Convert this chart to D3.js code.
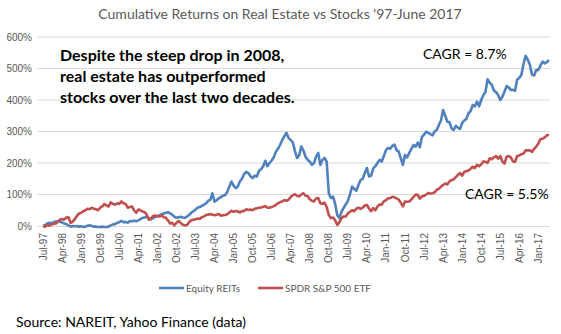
<!DOCTYPE html>
<html>
<head>
<meta charset="utf-8">
<script src="https://cdn.jsdelivr.net/npm/d3@7"></script>
<style>
  body { margin: 0; background: #fff; }
  svg { display: block; font-family: Lato, "Open Sans", sans-serif; }
  .grid line { stroke: #d9d9d9; stroke-width: 1; }
  .axis text { fill: #595959; font-size: 10px; }
  .series { fill: none; stroke-width: 2.6; stroke-linejoin: round; }
</style>
</head>
<body>
<script>
// monthly cumulative total return (%), Jul-97 .. Jun-17
var reitReturns = [
  0, 3, 8, 10, 8, 12,                                   // 1997
  14, 13, 15, 11, 8, 6, 2, -2, 0, -1, 0, -2,            // 1998
  -1, -3, -2, 1, 2, 0, -2, -2, -3, -3, -2, -3,          // 1999
  -3, -2, 2, 5, 6, 10, 12, 16, 12, 13, 10, 16,          // 2000
  15, 17, 15, 18, 22, 26, 27, 30, 24, 21, 25, 29,       // 2001
  31, 33, 38, 40, 42, 44, 40, 36, 30, 26, 28, 29,       // 2002
  27, 26, 30, 35, 42, 47, 52, 58, 60, 64, 68, 72,       // 2003
  80, 83, 104, 77, 82, 88, 92, 96, 98, 108, 125, 141,   // 2004
  128, 120, 125, 142, 150, 165, 172, 168, 158, 152, 160, 157, // 2005
  175, 180, 190, 207, 190, 200, 208, 218, 236, 245, 258, 273, // 2006
  285, 296, 279, 273, 265, 238, 216, 225, 252, 240, 220, 210, // 2007
  205, 194, 200, 220, 232, 194, 210, 216, 204, 104, 89, 93,   // 2008
  70, 35, 25, 45, 58, 68, 80, 100, 125, 118, 112, 130,        // 2009
  146, 150, 168, 184, 157, 160, 183, 190, 200, 210, 205, 222, // 2010
  241, 248, 245, 254, 258, 241, 236, 215, 194, 225, 218, 232, // 2011
  245, 257, 252, 265, 250, 283, 290, 300, 295, 292, 288, 300, // 2012
  305, 321, 335, 368, 350, 331, 330, 310, 305, 318, 312, 308, // 2013
  327, 335, 340, 358, 365, 384, 380, 395, 380, 400, 416, 425, // 2014
  466, 455, 448, 430, 425, 416, 400, 410, 427, 444, 440, 432, // 2015
  432, 430, 465, 470, 480, 515, 540, 528, 512, 480, 478, 495, // 2016
  495, 510, 522, 516, 520, 527                                // 2017
];

var spyReturns = [
  0, -2, 3, 1, 5, 7,                                    // 1997
  8, 15, 20, 22, 20, 27, 28, 10, 14, 22, 32, 40,        // 1998
  42, 47, 50, 55, 53, 58, 55, 53, 50, 58, 62, 70,       // 1999
  65, 62, 75, 70, 68, 72, 70, 78, 72, 70, 58, 60,       // 2000
  62, 50, 42, 52, 50, 46, 44, 36, 20, 24, 32, 33,       // 2001
  32, 30, 34, 28, 26, 18, 8, 10, 2, 10, 16, 10,         // 2002
  4, 2, 3, 12, 18, 20, 21, 24, 22, 28, 30, 35,          // 2003
  36, 38, 36, 34, 36, 38, 33, 34, 35, 37, 43, 48,       // 2004
  45, 48, 46, 43, 47, 48, 53, 51, 52, 50, 55, 56,       // 2005
  58, 59, 61, 63, 58, 58, 60, 63, 67, 72, 76, 78,       // 2006
  82, 80, 84, 92, 98, 101, 96, 94, 100, 104, 96, 95,    // 2007
  85, 80, 78, 87, 89, 72, 70, 74, 60, 35, 25, 27,       // 2008
  18, 3, 12, 25, 30, 30, 40, 45, 50, 47, 55, 58,        // 2009
  54, 58, 65, 67, 55, 47, 57, 50, 62, 68, 68, 78,       // 2010
  82, 88, 88, 93, 91, 88, 84, 74, 62, 78, 77, 78,       // 2011
  84, 92, 100, 99, 87, 94, 96, 100, 105, 103, 104, 107, // 2012
  115, 118, 125, 130, 135, 132, 142, 146, 148, 155, 162, 168, // 2013
  160, 172, 174, 176, 182, 188, 184, 194, 190, 195, 205, 204, // 2014
  200, 215, 212, 218, 222, 214, 222, 205, 198, 220, 222, 218, // 2015
  205, 204, 222, 224, 228, 230, 240, 240, 240, 235, 245, 252, // 2016
  262, 276, 277, 281, 288, 290                                // 2017
];

var tickLabels = ["Jul-97", "Apr-98", "Jan-99", "Oct-99", "Jul-00", "Apr-01", "Jan-02",
  "Oct-02", "Jul-03", "Apr-04", "Jan-05", "Oct-05", "Jul-06", "Apr-07", "Jan-08",
  "Oct-08", "Jul-09", "Apr-10", "Jan-11", "Oct-11", "Jul-12", "Apr-13", "Jan-14",
  "Oct-14", "Jul-15", "Apr-16", "Jan-17"];

var yTicks = [0, 100, 200, 300, 400, 500, 600];

var seriesNames = ["Equity REITs", "SPDR S&P 500 ETF"];
var seriesColors = ["#4f81bd", "#c0504d"];

// month categories, one per data point
var fmt = d3.timeFormat("%b-%y");
var months = d3.timeMonths(new Date(1997, 6, 1), new Date(2017, 6, 1)).map(fmt);

var margin = {top: 37, right: 11, bottom: 108, left: 42},
  width = 561 - margin.left - margin.right,
  height = 334 - margin.top - margin.bottom;

var svg = d3.select("body").append("svg")
  .attr("width", 561)
  .attr("height", 334);

svg.append("rect").attr("width", 561).attr("height", 334).attr("fill", "#fff");

// title
svg.append("text")
  .attr("x", 280)
  .attr("y", 19)
  .attr("text-anchor", "middle")
  .style("font-size", "14px")
  .style("fill", "#595959")
  .text("Cumulative Returns on Real Estate vs Stocks '97-June 2017");

var g = svg.append("g")
  .attr("transform", "translate(" + margin.left + "," + margin.top + ")");

// setup x (category band, point drawn at band centre)
var x = d3.scaleBand().domain(months).range([0, width]).padding(0);
var xMid = function(i) { return x(months[i]) + x.bandwidth() / 2; };

// setup y
var y = d3.scaleLinear().domain([0, 600]).range([height, 0]);

// gridlines
g.append("g")
  .attr("class", "grid")
  .selectAll("line")
  .data(yTicks.slice(1))
  .enter().append("line")
    .attr("x1", -5).attr("x2", width)
    .attr("y1", function(d) { return y(d); })
    .attr("y2", function(d) { return y(d); });

// y-axis labels
var yAxis = d3.axisLeft(y)
  .tickValues(yTicks)
  .tickSize(0)
  .tickPadding(10)
  .tickFormat(function(d) { return d + "%"; });

g.append("g")
  .attr("class", "axis y")
  .call(yAxis)
  .call(function(s) { s.select(".domain").remove(); });

// x-axis
var xAxis = d3.axisBottom(x)
  .tickValues(tickLabels)
  .tickSize(0)
  .tickPadding(0);

var xg = g.append("g")
  .attr("class", "axis x")
  .attr("transform", "translate(0," + height + ")")
  .call(xAxis);

xg.select(".domain").attr("stroke", "#d9d9d9").attr("d", "M-5,0.5H" + width);

xg.selectAll("text")
  .attr("transform", "rotate(-90)")
  .attr("x", -7)
  .attr("y", 0)
  .attr("dy", "0.35em")
  .style("text-anchor", "end");

// series lines
var line = d3.line()
  .x(function(d, i) { return xMid(i); })
  .y(function(d) { return y(d); });

g.selectAll(".series")
  .data([reitReturns, spyReturns])
  .enter().append("path")
    .attr("class", "series")
    .attr("stroke", function(d, i) { return seriesColors[i]; })
    .attr("d", line);

// annotations
var note = svg.append("text")
  .attr("x", 60)
  .attr("y", 61)
  .style("font-size", "16px")
  .style("font-weight", "bold")
  .style("fill", "#000");

["Despite the steep drop in 2008,", "real estate has outperformed",
 "stocks over the last two decades."].forEach(function(t, i) {
  note.append("tspan").attr("x", 60).attr("dy", i ? 21 : 0).text(t);
});

svg.append("text")
  .attr("x", 423).attr("y", 59)
  .style("font-size", "14px")
  .text("CAGR = 8.7%");

svg.append("text")
  .attr("x", 465).attr("y", 199)
  .style("font-size", "14px")
  .text("CAGR = 5.5%");

// legend
var legend = svg.selectAll(".legend")
  .data(seriesNames)
  .enter().append("g")
    .attr("class", "legend")
    .attr("transform", function(d, i) { return "translate(" + (159 + i * 99) + ",288)"; });

legend.append("line")
  .attr("x1", 0).attr("x2", 25)
  .attr("stroke", function(d, i) { return seriesColors[i]; })
  .attr("stroke-width", 2.6);

legend.append("text")
  .attr("x", 27)
  .attr("dy", "0.35em")
  .style("font-size", "10px")
  .style("fill", "#595959")
  .text(function(d) { return d; });

// source note
svg.append("text")
  .attr("x", 16)
  .attr("y", 327)
  .style("font-size", "14px")
  .style("fill", "#000")
  .text("Source: NAREIT, Yahoo Finance (data)");
</script>
</body>
</html>
